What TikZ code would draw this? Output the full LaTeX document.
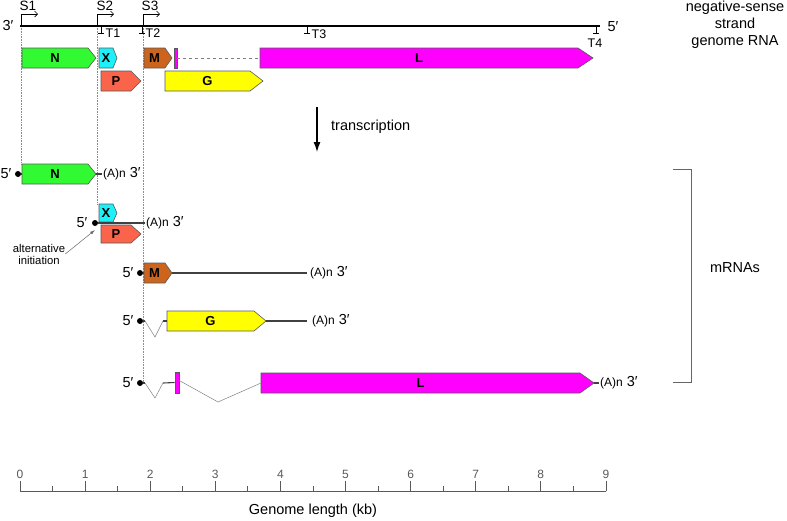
\documentclass[tikz,border=0pt]{standalone}
\usepackage{fontspec}
\setmainfont{Liberation Sans}
\usetikzlibrary{arrows.meta}

\definecolor{geneN}{RGB}{50,250,50}
\definecolor{geneX}{RGB}{30,240,250}
\definecolor{geneM}{RGB}{204,100,30}
\definecolor{geneP}{RGB}{250,100,75}
\definecolor{geneG}{RGB}{255,255,0}
\definecolor{geneL}{RGB}{255,0,255}

\tikzset{
  genebox/.style={draw=black!65,line width=0.6pt},
  genelabel/.style={inner sep=0pt,font=\fontsize{13}{14}\selectfont\bfseries},
  lbl/.style={inner sep=0pt,font=\fontsize{14.5}{17}\selectfont},
  smalltext/.style={inner sep=0pt,font=\fontsize{12.5}{14}\selectfont},
  guide/.style={densely dotted,black!45,line width=0.6pt},
  mrna/.style={black!75,line width=1.1pt},
  splice/.style={black!50,line width=0.5pt},
  capdot/.style={circle,fill=black,inner sep=0pt,minimum size=6pt},
  axisline/.style={black!65,line width=0.8pt},
}

\begin{document}
\begin{tikzpicture}[x=1pt,y=-1pt]
  \useasboundingbox (0,0) rectangle (787,520);

  % genome
  \draw[guide] (21,26) -- (21,164);
  \draw[guide] (97,26) -- (97,204);
  \draw[guide] (143,26) -- (143,383);
  \draw[line width=1.4pt] (20,26) -- (600,26);
  \node[lbl] (end3) at (8,26) {3′};
  \node[lbl] (end5) at (613,27) {5′};
  \node[lbl,align=center] (genome) at (735,25) {negative-sense\\strand\\genome RNA};

  % promoters and terminators
  \draw[-{Straight Barb[length=3pt,width=6pt]},line width=0.6pt] (21,26) |- (38,14);
  \draw[-{Straight Barb[length=3pt,width=6pt]},line width=0.6pt] (97,26) |- (114,14);
  \draw[-{Straight Barb[length=3pt,width=6pt]},line width=0.6pt] (143,26) |- (160,14);
  \node[smalltext,font=\fontsize{13.5}{15}\selectfont] (s1) at (28,6) {S1};
  \node[smalltext,font=\fontsize{13.5}{15}\selectfont] (s2) at (105,6) {S2};
  \node[smalltext,font=\fontsize{13.5}{15}\selectfont] (s3) at (150,6) {S3};
  \foreach \x in {101,142,307,596}
    \draw[-{Bar[width=6pt]},line width=0.6pt] (\x,26) -- (\x,34);
  \node[smalltext] (t1) at (113,33) {T1};
  \node[smalltext] (t2) at (153,33) {T2};
  \node[smalltext] (t3) at (319,34) {T3};
  \node[smalltext] (t4) at (595,43) {T4};

  % gene boxes: name/left/body end/tip/top/bottom/colour/text
  \foreach \nm/\xa/\xb/\xc/\ya/\yb/\col/\txt in {
      gN/22/88/96/48/68/geneN/N, gX/99/113/117/48/68/geneX/X,
      gM/144/165/172/48/68/geneM/M, gL/260/578/593/48/68/geneL/L,
      gP/101/131/141/71/91/geneP/P, gG/165/250/263/71/91/geneG/G,
      mN/22/88/96/164/184/geneN/N, mX/99/113/117/204/222/geneX/X,
      mP/101/131/141/225/243/geneP/P, mM/144/165/172/263/283/geneM/M,
      mG/167/254/266/311/331/geneG/G, mL/261/580/594/373/393/geneL/L}
  {
    \draw[genebox,fill=\col] (\xa,\ya) -- (\xb,\ya) -- (\xc,{(\ya+\yb)/2})
      -- (\xb,\yb) -- (\xa,\yb) -- cycle;
    \coordinate (\nm-w) at (\xa,{(\ya+\yb)/2});
    \coordinate (\nm-e) at (\xc,{(\ya+\yb)/2});
    \node[genelabel] (\nm) at ({(\xa+\xb)/2},{(\ya+\yb)/2}) {\txt};
  }
  \node[genebox,fill=geneL,inner sep=0pt,minimum width=3pt,minimum height=20pt] (gLx) at (175.5,58) {};
  \draw[dashed,black!50,line width=0.5pt] (gLx.east) -- (gL-w);

  % transcription
  \coordinate (tr1) at (317,107);
  \coordinate (tr2) at (317,152);
  \draw[-{Latex[length=10pt,width=7pt]},line width=1.2pt] (tr1) -- (tr2);
  \node[lbl,anchor=west] (transcr) at (331,127) {transcription};

  % mRNAs
  \node[capdot] (capN) at (18,174) {};
  \node[capdot] (capXP) at (95,223) {};
  \node[capdot] (capM) at (140,273) {};
  \node[capdot] (capG) at (140,321) {};
  \node[capdot] (capL) at (140,383) {};
  \node[lbl] (fiveN) at (6,174) {5′};
  \node[lbl] (fiveXP) at (82,223) {5′};
  \node[lbl] (fiveM) at (128,273) {5′};
  \node[lbl] (fiveG) at (128,321) {5′};
  \node[lbl] (fiveL) at (128,383) {5′};
  \node[lbl,anchor=west] (polyN) at (103,174) {{\fontsize{12}{14}\selectfont(A)n} 3′};
  \node[lbl,anchor=west] (polyXP) at (146,223) {{\fontsize{12}{14}\selectfont(A)n} 3′};
  \node[lbl,anchor=west] (polyM) at (310,273) {{\fontsize{12}{14}\selectfont(A)n} 3′};
  \node[lbl,anchor=west] (polyG) at (312,321) {{\fontsize{12}{14}\selectfont(A)n} 3′};
  \node[lbl,anchor=west] (polyL) at (600,383) {{\fontsize{12}{14}\selectfont(A)n} 3′};

  \draw[mrna] (capN) -- (mN-w);
  \draw[mrna,shorten >=1.5pt] (mN-e) -- (polyN.west);
  \draw[mrna,shorten >=1pt] (capXP) -- (polyXP.west);
  \draw[mrna] (capM) -- (mM-w);
  \draw[mrna,shorten >=3pt] (mM-e) -- (polyM.west);
  \draw[mrna] (capG) -- ++(5,0) coordinate (g1);
  \draw[splice] (g1) -- ++(10,16) -- ++(8,-16) coordinate (g2);
  \draw[mrna] (g2) -- (mG-w);
  \draw[mrna,shorten >=5pt] (mG-e) -- (polyG.west);
  \draw[mrna] (capL) -- ++(5,0) coordinate (l1);
  \draw[splice] (l1) -- ++(10,15) -- ++(8,-15) coordinate (l2);
  \node[genebox,fill=geneL,inner sep=0pt,minimum width=4pt,minimum height=21pt] (mLx) at (177,382.5) {};
  \draw[mrna] (l2) -- (mLx.west);
  \draw[splice] ([yshift=2pt]mLx.east) -- (218,402) -- (mL-w);
  \draw[mrna,shorten >=1pt] (mL-e) -- (polyL.west);

  \node[smalltext,align=center,font=\fontsize{11.3}{12}\selectfont] (altinit) at (39,254) {alternative\\initiation};
  \draw[-{Latex[length=5pt,width=3pt]},black!60,line width=0.5pt] (altinit.east) -- ([shift={(0,7)}]capXP.center);

  % bracket
  \draw[black!60,line width=0.8pt] (673,169) -- (691,169) -- (691,382) -- (673,382);
  \node[lbl] (mrnas) at (735,268) {mRNAs};

  % scale
  \draw[axisline] (20,491) -- (606,491);
  \foreach \k in {0,...,9}
    \draw[axisline] ({20+65.1*\k},491) -- ++(0,-10)
      node[above=2pt,inner sep=0pt,font=\fontsize{12}{14}\selectfont] (tick\k) {\k};
  \foreach \k in {0,...,8}
    \draw[axisline] ({20+65.1*(\k+0.5)},491) -- ++(0,-5);
  \node[lbl] (axlabel) at (313,511) {Genome length (kb)};
\end{tikzpicture}
\end{document}
